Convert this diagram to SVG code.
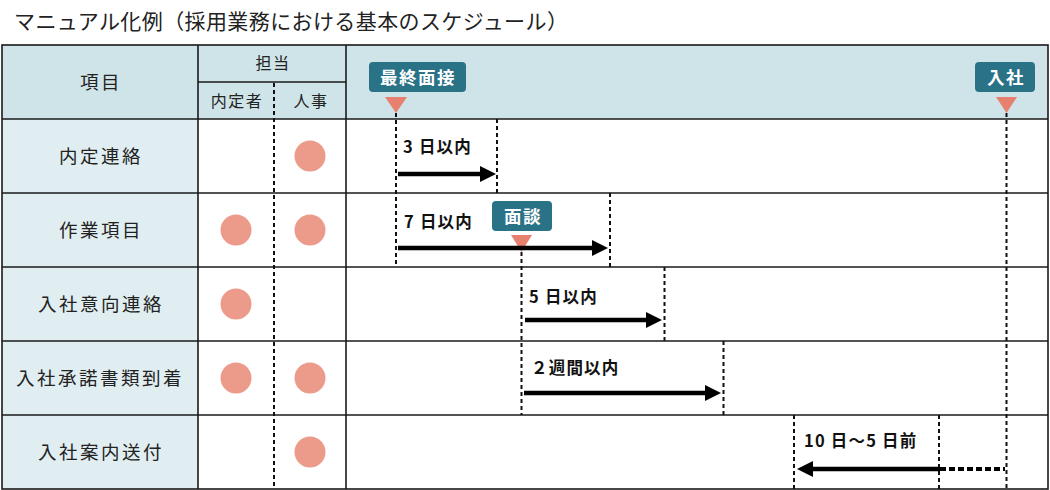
<svg xmlns="http://www.w3.org/2000/svg" width="1050" height="490" viewBox="0 0 1050 490">
<defs>
<style>
text{font-family:"Noto Sans CJK JP","Noto Sans",sans-serif;fill:#222}
.title{font-size:21px;letter-spacing:0.4px}
.item{font-size:18.5px;letter-spacing:2.5px;text-anchor:middle}
.hd{font-size:16px;letter-spacing:1.5px;text-anchor:middle}
.lbl{font-size:16.5px;font-weight:bold;letter-spacing:1.2px;fill:#111}
.tag{font-size:17.5px;font-weight:bold;letter-spacing:1.5px;fill:#fff;text-anchor:middle}
.grid{stroke:#1a1a1a;stroke-width:1.6;fill:none}
.dash{stroke:#111;stroke-width:2;stroke-dasharray:4 3;fill:none}
.dot{fill:#ec9a8a}
.box{fill:#2a7286}
.tri{fill:#e8806f}
.arr{stroke:#000;stroke-width:4.5;fill:none}
.ahd{fill:#000}
</style>
</defs>
<rect width="1050" height="490" fill="#fff"/>
<text class="title" x="14" y="29">マニュアル化例（採用業務における基本のスケジュール）</text>

<g id="table">
<rect x="2" y="45" width="1046" height="74" fill="#cfe4e8"/>
<rect x="2" y="119" width="196" height="370" fill="#e1eef1"/>
<line class="grid" x1="2" y1="119" x2="1048" y2="119"/>
<line class="grid" x1="2" y1="193" x2="1048" y2="193"/>
<line class="grid" x1="2" y1="267" x2="1048" y2="267"/>
<line class="grid" x1="2" y1="341" x2="1048" y2="341"/>
<line class="grid" x1="2" y1="415" x2="1048" y2="415"/>
<line class="grid" x1="198" y1="82" x2="346" y2="82"/>
<line class="grid" x1="198" y1="45" x2="198" y2="489"/>
<line class="grid" x1="346" y1="45" x2="346" y2="489"/>
<rect class="grid" x="2" y="45" width="1046" height="444"/>
<line class="dash" x1="274" y1="83" x2="274" y2="489"/>
<text class="item" x="101" y="89">項目</text>
<text class="hd" x="273" y="69">担当</text>
<text class="hd" x="237" y="107">内定者</text>
<text class="hd" x="311" y="107">人事</text>
</g>

<g id="row-naitei">
<text class="item" x="101" y="163">内定連絡</text>
<circle class="dot" cx="310" cy="156" r="15.5"/>
</g>
<g id="row-sagyo">
<text class="item" x="101" y="237">作業項目</text>
<circle class="dot" cx="236" cy="230" r="15.5"/>
<circle class="dot" cx="310" cy="230" r="15.5"/>
</g>
<g id="row-ikou">
<text class="item" x="101" y="311">入社意向連絡</text>
<circle class="dot" cx="236" cy="304" r="15.5"/>
</g>
<g id="row-shodaku">
<text class="item" x="100" y="385">入社承諾書類到着</text>
<circle class="dot" cx="236" cy="378" r="15.5"/>
<circle class="dot" cx="310" cy="378" r="15.5"/>
</g>
<g id="row-annai">
<text class="item" x="101" y="459">入社案内送付</text>
<circle class="dot" cx="310" cy="452" r="15.5"/>
</g>

<g id="marker-saishu">
<rect class="box" x="369" y="62" width="97" height="30" rx="4"/>
<text class="tag" x="418" y="83.5">最終面接</text>
<polygon class="tri" points="385,97 407,97 396,113"/>
</g>
<g id="marker-nyusha">
<rect class="box" x="975" y="62" width="60" height="30" rx="4"/>
<text class="tag" x="1006" y="83.5">入社</text>
<polygon class="tri" points="996,97 1017,97 1006.5,113"/>
</g>
<g id="marker-mendan">
<rect class="box" x="492" y="201" width="60" height="30" rx="4"/>
<text class="tag" x="523" y="222.5">面談</text>
<polygon class="tri" points="511,235 532,235 521.5,252"/>
</g>

<g id="connectors">
<line class="dash" x1="396" y1="113" x2="396" y2="267"/>
<line class="dash" x1="1006.5" y1="113" x2="1006.5" y2="489"/>
<line class="dash" x1="521.5" y1="252" x2="521.5" y2="415"/>
<line class="dash" x1="497" y1="119" x2="497" y2="193"/>
<line class="dash" x1="610" y1="193" x2="610" y2="267"/>
<line class="dash" x1="664.5" y1="267" x2="664.5" y2="341"/>
<line class="dash" x1="723.5" y1="341" x2="723.5" y2="415"/>
<line class="dash" x1="794" y1="415" x2="794" y2="489"/>
<line class="dash" x1="939" y1="415" x2="939" y2="489"/>

<text class="lbl" x="403" y="153">3 日以内</text>
<line class="arr" x1="398" y1="174" x2="482" y2="174"/>
<polygon class="ahd" points="480,166 496,174 480,182"/>

<text class="lbl" x="404" y="228">7 日以内</text>
<line class="arr" x1="398" y1="248" x2="594" y2="248"/>
<polygon class="ahd" points="592,240 608,248 592,256"/>

<text class="lbl" x="529" y="303">5 日以内</text>
<line class="arr" x1="525" y1="320" x2="648" y2="320"/>
<polygon class="ahd" points="646,312 662,320 646,328"/>

<text class="lbl" x="531" y="374">２週間以内</text>
<line class="arr" x1="524" y1="393" x2="707" y2="393"/>
<polygon class="ahd" points="705,385 721,393 705,401"/>

<text class="lbl" x="804" y="447">10 日～5 日前</text>
<line class="arr" x1="811" y1="469" x2="940" y2="469"/>
<polygon class="ahd" points="813,461 797,469 813,477"/>
<line x1="940" y1="469" x2="1005" y2="469" stroke="#000" stroke-width="4" stroke-dasharray="6 3"/>
</g>
</svg>
